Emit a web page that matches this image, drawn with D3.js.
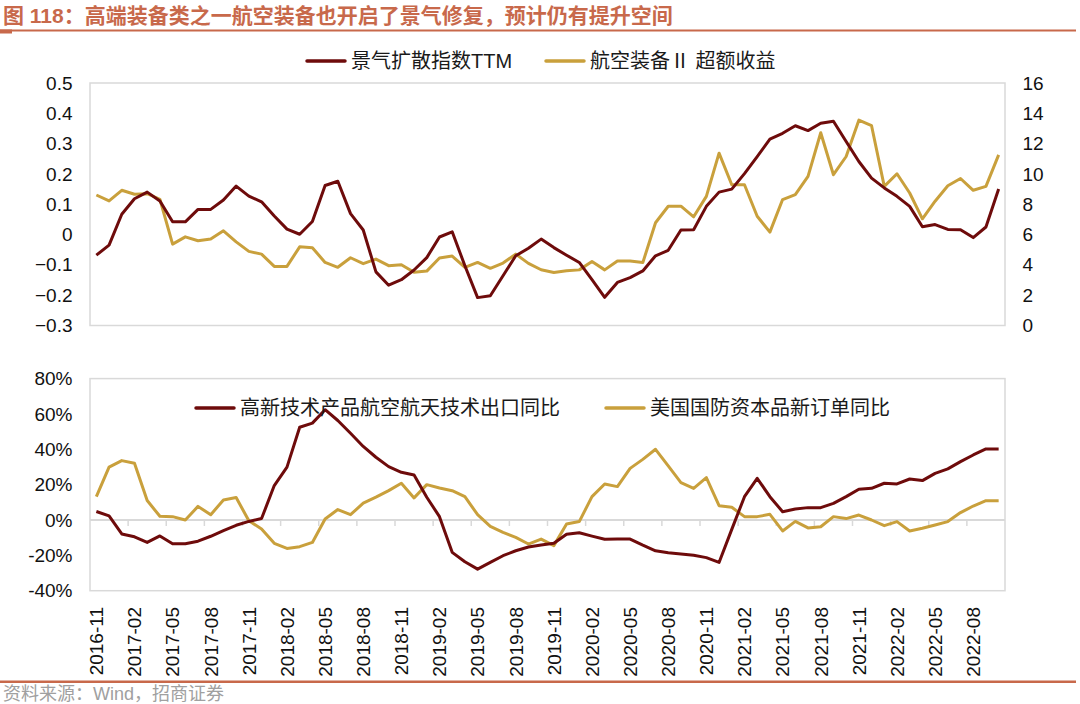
<!DOCTYPE html>
<html>
<head>
<meta charset="utf-8">
<script src="https://cdn.jsdelivr.net/npm/d3@7"></script>
<style>
  body { margin: 0; background: #fff; }
  svg { display: block; }
</style>
</head>
<body>
<div id="chart"></div>
<script>
// 景气扩散指数 / 航空装备超额收益 (top), 出口同比 / 国防资本品订单同比 (bottom)

const fmtMonth = d3.timeFormat("%Y-%m");
const months = d3.timeMonth.range(new Date(2016, 10, 1), new Date(2022, 10, 1)).map(fmtMonth);

const tickLabels = ["2016-11", "2017-02", "2017-05", "2017-08", "2017-11", "2018-02", "2018-05",
    "2018-08", "2018-11", "2019-02", "2019-05", "2019-08", "2019-11", "2020-02", "2020-05",
    "2020-08", "2020-11", "2021-02", "2021-05", "2021-08", "2021-11", "2022-02", "2022-05", "2022-08"];

// top panel, left axis
const diffusion = [-0.068, -0.035, 0.067, 0.118, 0.140, 0.111, 0.042, 0.042, 0.083, 0.083,
    0.114, 0.160, 0.127, 0.108, 0.061, 0.018, 0.001, 0.043, 0.162, 0.176,
    0.069, 0.015, -0.123, -0.167, -0.149, -0.117, -0.076, -0.008, 0.009, -0.103,
    -0.208, -0.202, -0.136, -0.070, -0.045, -0.015, -0.043, -0.068, -0.092, -0.149,
    -0.207, -0.158, -0.142, -0.120, -0.070, -0.052, 0.015, 0.016, 0.093, 0.140,
    0.150, 0.201, 0.257, 0.315, 0.334, 0.359, 0.343, 0.367, 0.374, 0.307,
    0.241, 0.186, 0.154, 0.126, 0.093, 0.026, 0.033, 0.017, 0.016, -0.010,
    0.025, 0.150];

// top panel, right axis
const excessReturn = [8.61, 8.22, 8.92, 8.66, 8.70, 8.33, 5.37, 5.85, 5.59, 5.70,
    6.25, 5.52, 4.89, 4.71, 3.90, 3.90, 5.19, 5.13, 4.16, 3.84,
    4.47, 4.08, 4.38, 3.95, 4.01, 3.51, 3.59, 4.45, 4.58, 3.84,
    4.16, 3.77, 4.12, 4.71, 4.10, 3.68, 3.50, 3.61, 3.67, 4.22,
    3.67, 4.26, 4.26, 4.15, 6.78, 7.87, 7.87, 7.17, 8.52, 11.37,
    9.29, 9.29, 7.21, 6.16, 8.31, 8.63, 9.84, 12.72, 9.95, 11.15,
    13.55, 13.18, 9.18, 10.01, 8.74, 7.04, 8.20, 9.22, 9.70, 8.92,
    9.18, 11.26];

// bottom panel, %
const exportYoy = [4.8, 2.3, -7.9, -9.5, -12.7, -9.0, -13.4, -13.4, -12.0, -9.2,
    -6.0, -3.0, -0.8, 0.8, 19.5, 29.9, 52.5, 54.8, 62.4, 56.3,
    49.1, 41.6, 35.5, 30.2, 27.0, 25.5, 12.9, 1.9, -18.3, -23.6,
    -27.8, -24.0, -20.2, -17.4, -15.3, -14.1, -13.2, -8.1, -7.2, -9.1,
    -10.9, -10.8, -10.8, -14.2, -17.4, -18.5, -19.2, -20.0, -21.3, -24.0,
    -5.3, 13.2, 23.6, 13.2, 4.7, 6.2, 7.0, 7.0, 9.4, 13.2,
    17.4, 17.9, 20.8, 20.4, 23.2, 22.3, 26.4, 28.9, 33.0, 36.8,
    40.2, 40.2];

const defenseOrders = [13.2, 29.9, 33.6, 32.1, 11.0, 2.1, 1.9, 0.0, 7.7, 3.0,
    11.3, 12.7, -0.4, -5.1, -13.2, -16.1, -15.1, -12.7, 0.6, 5.9,
    3.0, 9.5, 12.9, 16.6, 20.8, 12.5, 20.0, 18.1, 16.6, 13.2,
    3.0, -3.6, -7.0, -9.8, -13.6, -10.8, -14.5, -2.3, -0.9, 13.2,
    20.4, 18.9, 29.2, 34.3, 40.0, 30.6, 21.1, 17.9, 24.0, 8.1,
    7.2, 1.9, 1.9, 3.2, -6.2, -0.8, -4.5, -3.8, 1.9, 0.8,
    2.8, 0.0, -3.2, -0.9, -6.2, -4.7, -2.8, -0.9, 4.2, 7.9,
    10.9, 10.9];

const leftTicks = [-0.3, -0.2, -0.1, 0, 0.1, 0.2, 0.3, 0.4, 0.5];
const rightTicks = [0, 2, 4, 6, 8, 10, 12, 14, 16];
const bottomTicks = [-40, -20, 0, 20, 40, 60, 80];

const brown = "#6e0b0b";
const gold = "#c9a03c";
const frame = "#d9d9d9";
const accent = "#c8694b";
const latin = "'Liberation Sans', Arial, 'Noto Sans CJK SC', sans-serif";

const W = 1080, H = 704;
const left = 90, right = 1005;
const top1 = 83, bot1 = 325.5;
const top2 = 378.6, bot2 = 590.7;

const svg = d3.select("#chart").append("svg")
    .attr("width", W)
    .attr("height", H)
    .style("font-family", latin);

// title
svg.append("text")
    .attr("x", 3)
    .attr("y", 16)
    .attr("dy", "0.35em")
    .attr("fill", accent)
    .style("font-size", "21px")
    .style("font-weight", "bold")
    .text("图 118：高端装备类之一航空装备也开启了景气修复，预计仍有提升空间");

svg.append("rect").attr("x", 0).attr("y", 29.5).attr("width", 1076).attr("height", 2).attr("fill", accent);
svg.append("rect").attr("x", 0).attr("y", 29.5).attr("width", 12).attr("height", 4).attr("fill", accent);

// scales
const x = d3.scaleBand().domain(months).range([left, right]);
const xc = d => x(d) + x.bandwidth() / 2;

const yL = d3.scaleLinear().domain([-0.3, 0.5]).range([bot1, top1]);
const yR = d3.scaleLinear().domain([0, 16]).range([bot1, top1]);
const yB = d3.scaleLinear().domain([-40, 80]).range([bot2, top2]);

// frames
svg.append("rect")
    .attr("x", left).attr("y", top1)
    .attr("width", right - left).attr("height", bot1 - top1)
    .attr("fill", "none").attr("stroke", frame).attr("stroke-width", 1.5);

svg.append("rect")
    .attr("x", left).attr("y", top2)
    .attr("width", right - left).attr("height", bot2 - top2)
    .attr("fill", "none").attr("stroke", frame).attr("stroke-width", 1.5);

// zero line with ticks in bottom panel
svg.append("line")
    .attr("x1", left).attr("x2", right)
    .attr("y1", yB(0)).attr("y2", yB(0))
    .attr("stroke", frame).attr("stroke-width", 2);

svg.append("g")
    .selectAll("line")
    .data(months.filter((d, i) => i > 0 && i % 3 === 0))
    .enter()
    .append("line")
    .attr("x1", d => x(d)).attr("x2", d => x(d))
    .attr("y1", yB(0)).attr("y2", yB(0) + 6)
    .attr("stroke", frame).attr("stroke-width", 1.5);

// axes
function styleAxis(g) {
    g.select(".domain").remove();
    g.selectAll("text")
        .attr("fill", "#111")
        .style("font-size", "19px")
        .style("font-family", latin);
}

svg.append("g")
    .attr("transform", "translate(" + left + ",0)")
    .call(d3.axisLeft(yL).tickValues(leftTicks).tickSize(0).tickPadding(17.5)
        .tickFormat(d => d === 0 ? "0" : d3.format(".1f")(d)))
    .call(styleAxis);

svg.append("g")
    .attr("transform", "translate(" + right + ",0)")
    .call(d3.axisRight(yR).tickValues(rightTicks).tickSize(0).tickPadding(17.5))
    .call(styleAxis);

svg.append("g")
    .attr("transform", "translate(" + left + ",0)")
    .call(d3.axisLeft(yB).tickValues(bottomTicks).tickSize(0).tickPadding(17.5)
        .tickFormat(d => d + "%"))
    .call(styleAxis);

svg.append("g")
    .attr("transform", "translate(0,607)")
    .call(d3.axisBottom(x).tickValues(tickLabels).tickSize(0))
    .call(styleAxis)
    .selectAll("text")
    .attr("x", 0)
    .attr("y", 0)
    .attr("dy", "0.36em")
    .attr("text-anchor", "end")
    .attr("transform", "rotate(-90)");

// lines
function drawLine(values, yScale, color) {
    svg.append("path")
        .datum(values)
        .attr("d", d3.line()
            .x((d, i) => xc(months[i]))
            .y(d => yScale(d)))
        .attr("fill", "none")
        .attr("stroke", color)
        .attr("stroke-width", 3)
        .attr("stroke-linejoin", "round");
}

drawLine(excessReturn, yR, gold);
drawLine(diffusion, yL, brown);
drawLine(defenseOrders, yB, gold);
drawLine(exportYoy, yB, brown);

// legends
const legends = [
    { x: 306, y: 61, color: brown, label: "景气扩散指数TTM" },
    { x: 545, y: 61, color: gold, label: "航空装备Ⅱ 超额收益" },
    { x: 195, y: 408, color: brown, label: "高新技术产品航空航天技术出口同比" },
    { x: 605, y: 408, color: gold, label: "美国国防资本品新订单同比" }
];

const lg = svg.append("g")
    .selectAll("g")
    .data(legends)
    .enter()
    .append("g")
    .attr("transform", d => "translate(" + d.x + "," + d.y + ")");

lg.append("line")
    .attr("x1", 1).attr("x2", 39)
    .attr("stroke", d => d.color)
    .attr("stroke-width", 3.5)
    .attr("stroke-linecap", "round");

lg.append("text")
    .attr("x", 45)
    .attr("dy", "0.36em")
    .attr("fill", "#1a1a1a")
    .style("font-size", "20px")
    .text(d => d.label);

// source
svg.append("rect").attr("x", 0).attr("y", 680.5).attr("width", 1076).attr("height", 2.5).attr("fill", accent);

svg.append("text")
    .attr("x", 3)
    .attr("y", 694)
    .attr("dy", "0.35em")
    .attr("fill", "#a0a0a0")
    .style("font-size", "18px")
    .text("资料来源：Wind，招商证券");
</script>
</body>
</html>
